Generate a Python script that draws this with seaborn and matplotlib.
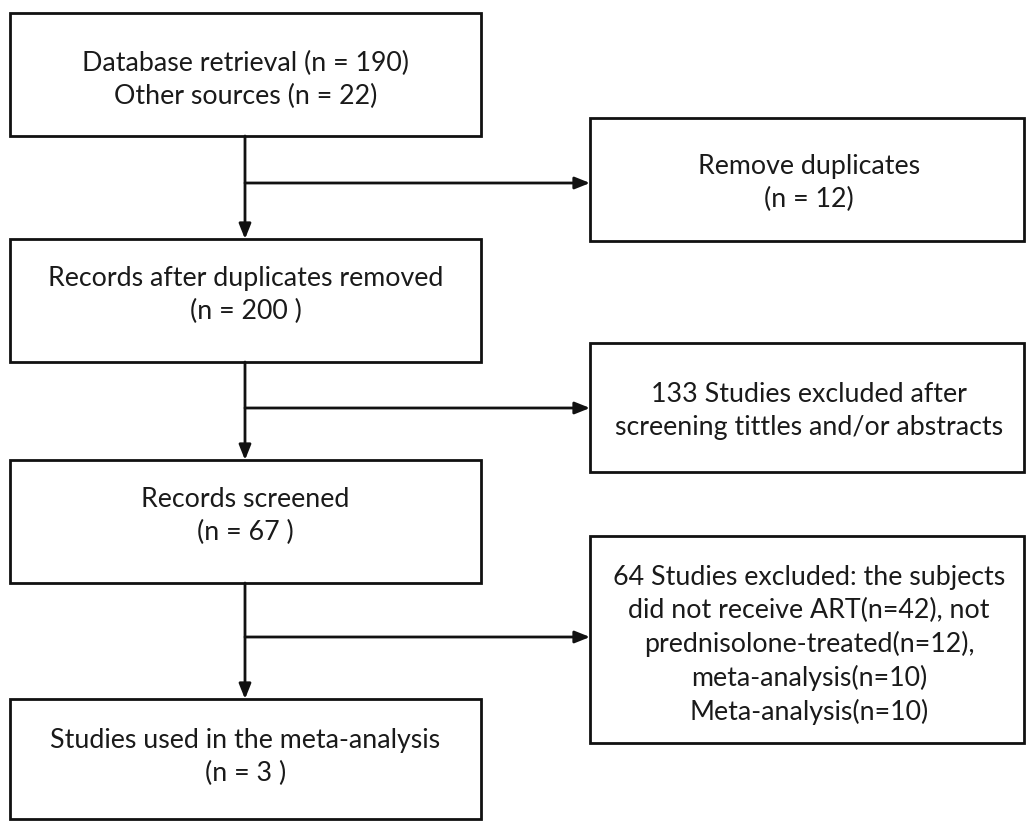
import matplotlib
matplotlib.use("Agg")
import matplotlib.pyplot as plt
import seaborn as sns
from matplotlib.patches import Rectangle

# ---- data ----
main_labels = [
    "Database retrieval (n = {db})\nOther sources (n = {other})",
    "Records after duplicates removed\n(n = {after} )",
    "Records screened\n(n = {screened} )",
    "Studies used in the meta-analysis\n(n = {included} )",
]
side_labels = [
    "Remove duplicates\n(n = {dups})",
    "{excl1} Studies excluded after\nscreening tittles and/or abstracts",
    "{excl2} Studies excluded: the subjects\ndid not receive ART(n={noart}), not\n"
    "prednisolone-treated(n={nopred}),\nmeta-analysis(n={meta1})\nMeta-analysis(n={meta2})",
]
counts = dict(db=190, other=22, after=200, screened=67, included=3,
              dups=12, excl1=133, excl2=64, noart=42, nopred=12, meta1=10, meta2=10)

# ---- layout (pixel coordinates, y downward) ----
main_x = (10, 481)
main_y = [(13, 136), (239, 362), (460, 583), (699, 819)]
side_x = (590, 1024)
side_y = [(118, 241), (343, 472), (536, 743)]
branch_y = [183, 408, 637]

sns.set_theme(style="white")
plt.rcParams['font.family'] = ['Lato', 'DejaVu Sans']

fig = plt.figure(figsize=(10.32, 8.21), dpi=100)
ax = fig.add_axes([0, 0, 1, 1])
ax.set_xlim(0, 1032)
ax.set_ylim(821, 0)
ax.axis("off")

lw = 2.0
fs = 19.3
ls = 1.38

def box(x, y):
    ax.add_patch(Rectangle((x[0], y[0]), x[1] - x[0], y[1] - y[0],
                           fill=False, edgecolor="#111111", linewidth=lw))

main_text_y = [80, 295, 516, 757]
for (y0, y1), lab, ty in zip(main_y, main_labels, main_text_y):
    box(main_x, (y0, y1))
    ax.text((main_x[0] + main_x[1]) / 2, ty, lab.format(**counts), ha="center",
            va="center", fontsize=fs, linespacing=ls, color="#1a1a1a")

side_text_y = [183, 411, 645]
for (y0, y1), lab, ty in zip(side_y, side_labels, side_text_y):
    box(side_x, (y0, y1))
    ax.text((side_x[0] + side_x[1]) / 2 + 2, ty, lab.format(**counts), ha="center",
            va="center", fontsize=fs, linespacing=ls, color="#1a1a1a")

vx = 245
arrowprops = dict(arrowstyle="-|>,head_length=0.75,head_width=0.3", color="#111111",
                  lw=lw, shrinkA=0, shrinkB=0)
for i in range(3):
    ax.annotate("", xy=(vx, main_y[i + 1][0]), xytext=(vx, main_y[i][1]),
                arrowprops=arrowprops)
    ax.annotate("", xy=(side_x[0], branch_y[i]), xytext=(vx, branch_y[i]),
                arrowprops=arrowprops)

fig.savefig("out.png", dpi=100, facecolor="white")
